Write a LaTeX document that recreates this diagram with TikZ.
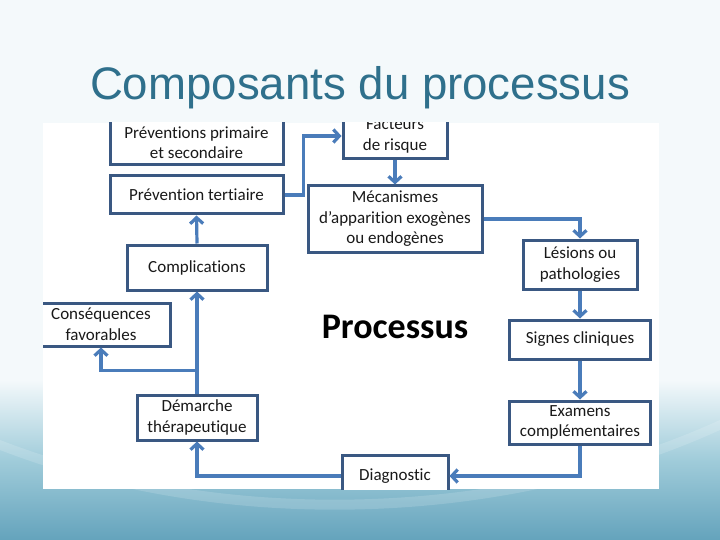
\documentclass[tikz,border=0pt]{standalone}
\usepackage{fontspec}
\setmainfont{Carlito}[Ligatures=NoCommon]
\newfontfamily\titlefont{Liberation Sans}
\usetikzlibrary{arrows.meta,calc}
\definecolor{boxc}{RGB}{58,88,130}
\definecolor{arrc}{RGB}{74,124,186}
\definecolor{titc}{RGB}{47,112,140}
\definecolor{bgtop}{RGB}{244,249,251}
\definecolor{teal1}{RGB}{160,204,218}
\definecolor{teal2}{RGB}{100,163,188}
\tikzset{
 box/.style={draw=boxc, line width=3pt, fill=white, align=center, inner sep=0pt,
   font=\fontsize{17}{20.5}\selectfont, text=black!90},
 arr/.style={draw=arrc, line width=3.2pt, -{Straight Barb[length=6pt,width=13pt]}},
 ln/.style={draw=arrc, line width=3.2pt}
}
\begin{document}
\begin{tikzpicture}[x=1pt,y=-1pt]
\useasboundingbox (0,0) rectangle (720,540);
% background
\fill[bgtop] (0,0) rectangle (720,540);
\shade[top color=bgtop, bottom color=teal2, middle color=teal1] (0,380) rectangle (720,540);
\fill[white, opacity=0.15] (0,440) .. controls (220,525) and (500,520) .. (720,420)
   -- (720,430) .. controls (500,530) and (220,535) .. (0,450) -- cycle;
% title
\node[font=\titlefont\fontsize{45.6}{50}\selectfont, text=titc, anchor=base] (title) at (360,100) {Composants du processus};
% picture area
\fill[white] (43,123) rectangle (659,489);
\begin{scope}
\clip (43,123) rectangle (659,489);
\node[box, minimum width=173pt, minimum height=45pt] (prev1) at (196.5,142.5) {Préventions primaire\\et secondaire};
\node[box, minimum width=173pt, minimum height=38pt] (prev3) at (196.5,195) {Prévention tertiaire};
\node[box, minimum width=104pt, minimum height=46pt] (fact) at (395,136) {Facteurs\\de risque};
\node[box, minimum width=174pt, minimum height=66pt] (meca) at (395,219) {Mécanismes\\d’apparition exogènes\\ou endogènes};
\node[box, minimum width=114pt, minimum height=49pt] (lesi) at (580,264.5) {Lésions ou\\pathologies};
\node[box, minimum width=141pt, minimum height=39pt] (sign) at (580,339.5) {Signes cliniques};
\node[box, minimum width=141pt, minimum height=43pt] (exam) at (580,422.5) {Examens\\complémentaires};
\node[box, minimum width=106pt, minimum height=42pt] (diag) at (395,476) {Diagnostic};
\node[box, minimum width=120pt, minimum height=45pt] (dema) at (197,417.5) {Démarche\\thérapeutique};
\node[box, minimum width=140pt, minimum height=45pt] (comp) at (197,267.5) {Complications};
\node[box, minimum width=138pt, minimum height=43pt] (cons) at (101,324.5) {Conséquences\\favorables};
\node[font=\bfseries\fontsize{36}{40}\selectfont, text=black, anchor=base] (proc) at (395,338) {Processus};
% connectors
\draw[arr] (prev3.east) -- ++(19,0) |- (fact.west);
\draw[arr] (fact.south) -- (meca.north);
\draw[arr] (meca.east) -| (lesi.north);
\draw[arr] (lesi.south) -- (sign.north);
\draw[arr] (sign.south) -- (exam.north);
\draw[arr] (exam.south) |- (diag.east);
\draw[arr] (diag.west) -| (dema.south);
\draw[arr] (dema.north) -- (comp.south);
\coordinate (br) at ($(dema.north)+(0,-23)$);
\draw[arr] (br) -| (cons.south);
\draw[arr] (comp.north) -- (prev3.south);
\end{scope}
\end{tikzpicture}
\end{document}
